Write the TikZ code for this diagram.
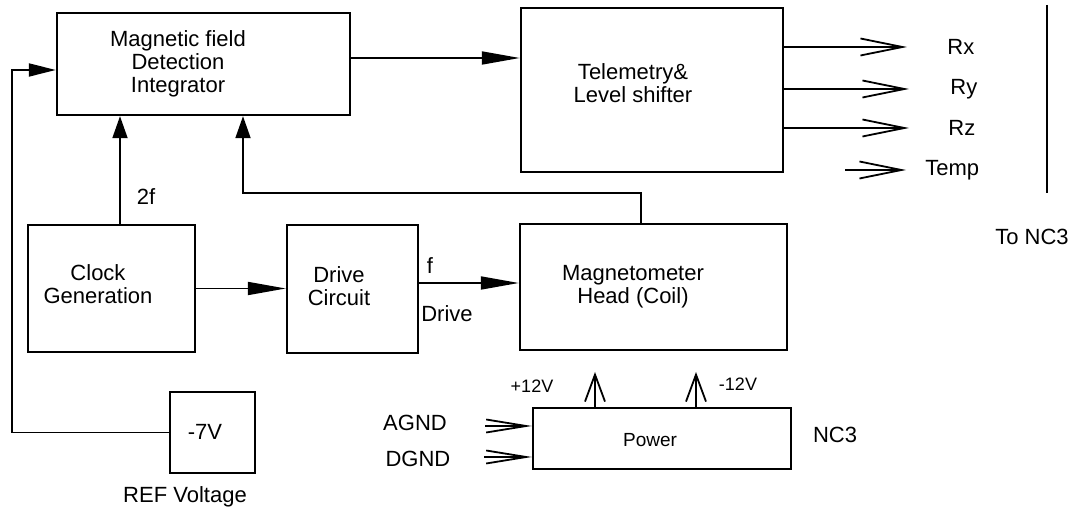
\documentclass[tikz,border=0pt]{standalone}
\usepackage{fontspec}
\setmainfont{Liberation Sans}
\usetikzlibrary{arrows.meta}
\begin{document}
\begin{tikzpicture}[x=0.5pt,y=-0.5pt,
  box/.style={draw,line width=1.2pt,inner sep=0pt},
  txt/.style={font=\fontsize{11pt}{11.5pt}\selectfont,align=center,inner sep=0pt},
  smalltxt/.style={font=\fontsize{9pt}{10pt}\selectfont,inner sep=0pt},
  conn/.style={line width=0.9pt},
  fa/.style={conn,-{Triangle[length=19pt,width=6.5pt]}},
  ua/.style={conn,-{Triangle[length=11pt,width=7.5pt]}},
  la/.style={conn,-{Triangle[length=13.5pt,width=6.5pt]}},
  ob/.style={conn,-{Straight Barb[length=21pt,width=8.5pt]}},
  gb/.style={conn,-{Straight Barb[length=20pt,width=6.5pt]}},
  pb/.style={conn,-{Straight Barb[length=13.5pt,width=10pt]}}]
\useasboundingbox (0,0) rectangle (1077,512);

% boxes
\node[box,minimum width=146.5pt,minimum height=51pt] (mfd) at (203.5,64) {};
\node[box,minimum width=131pt,minimum height=82pt] (tel) at (652,90) {};
\node[box,minimum width=83.5pt,minimum height=63.5pt] (clk) at (111.5,288.5) {};
\node[box,minimum width=65.5pt,minimum height=64pt] (drv) at (352.5,289) {};
\node[box,minimum width=133.5pt,minimum height=63pt] (mag) at (653.5,287) {};
\node[box,minimum width=42.5pt,minimum height=40.5pt] (ref) at (212.5,432.5) {};
\node[box,minimum width=129pt,minimum height=30.5pt] (pwr) at (662,438.5) {};

% box texts
\node[txt] (mfdt) at (178,64) {Magnetic field\\Detection\\Integrator};
\node[txt] (telt) at (633,83) {Telemetry\&\\Level shifter};
\node[txt] (clkt) at (98,284) {Clock\\Generation};
\node[txt] (drvt) at (339,286) {Drive\\Circuit};
\node[txt] (magt) at (633,287) {Magnetometer\\Head (Coil)};
\node[txt] (reft) at (205,432) {-7V};
\node[txt,font=\fontsize{9.5pt}{10pt}\selectfont] (pwrt) at (650,440) {Power};

% free labels
\node[txt] (l2f) at (146,197) {2f};
\node[txt] (lf) at (430,266) {f};
\node[txt] (ldrive) at (447,314) {Drive};
\node[txt] (lrefv) at (185,497) {REF Voltage};
\node[txt,anchor=west] (lrx) at (947,47) {Rx};
\node[txt,anchor=west] (lry) at (950,89) {Ry};
\node[txt,anchor=west] (lrz) at (948,128) {Rz};
\node[txt,anchor=west] (ltemp) at (925,170) {Temp};
\node[txt] (ltonc) at (1032,237) {To NC3};
\node[txt] (lnc) at (835,435) {NC3};
\node[txt] (lagnd) at (415,423) {AGND};
\node[txt] (ldgnd) at (418,459) {DGND};
\node[smalltxt] (lp12) at (532,386) {+12V};
\node[smalltxt] (lm12) at (738,384) {-12V};

% coordinates
\coordinate (ty) at (0,58);
\coordinate (fy) at (0,283);
\coordinate (c2f) at (120,0);
\coordinate (fb) at (641,193);
\coordinate (fbl) at (243,193);
\coordinate (lft) at (12,70);
\coordinate (rxe) at (907,47);
\coordinate (rye) at (909,89);
\coordinate (rze) at (909,128);
\coordinate (tps) at (845,170);
\coordinate (tpe) at (906,170);
\coordinate (vt) at (1047,5);
\coordinate (vb) at (1047,193);
\coordinate (p1) at (595,372);
\coordinate (p2) at (696,372);
\coordinate (ags) at (485,426);
\coordinate (dgs) at (484,457);

% connectors
\draw[fa] (mfd.east |- ty) -- (tel.west |- ty);
\draw[ua] (clk.north -| c2f) -- (mfd.south -| c2f);
\draw[ua] (fb |- mag.north) -- (fb) -- (fbl) -- (mfd.south -| fbl);
\draw[fa] (clk.east) -- (clk.east -| drv.west);
\draw[fa] (drv.east |- fy) -- (mag.west |- fy);
\draw[la] (ref.west) -- (ref.west -| lft) -- (lft) -- (lft -| mfd.west);
\draw[ob] (tel.east |- rxe) -- (rxe);
\draw[ob] (tel.east |- rye) -- (rye);
\draw[ob] (tel.east |- rze) -- (rze);
\draw[ob] (tps) -- (tpe);
\draw[conn] (vt) -- (vb);
\draw[pb] (pwr.north -| p1) -- (p1);
\draw[pb] (pwr.north -| p2) -- (p2);
\draw[gb] (ags) -- (ags -| pwr.west);
\draw[gb] (dgs) -- (dgs -| pwr.west);
\end{tikzpicture}
\end{document}
